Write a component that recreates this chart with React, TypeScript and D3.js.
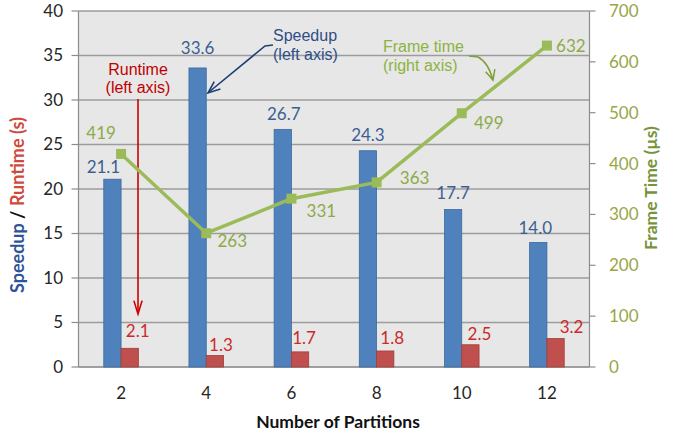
import React from "react";
import * as d3 from "d3";

// Partition counts along the x axis
const partitions: string[] = ["2", "4", "6", "8", "10", "12"];
// Speedup (left axis)
const speedup: number[] = [21.1, 33.6, 26.7, 24.3, 17.7, 14.0];
// Runtime in seconds (left axis)
const runtime: number[] = [2.1, 1.3, 1.7, 1.8, 2.5, 3.2];
// Frame time in microseconds (right axis)
const frameTime: number[] = [419, 263, 331, 363, 499, 632];

const leftTicks: number[] = [0, 5, 10, 15, 20, 25, 30, 35, 40];
const rightTicks: number[] = [0, 100, 200, 300, 400, 500, 600, 700];

// Label placement nudges (dx, dy) relative to each mark
const speedupLabelNudge: [number, number][] = [[-9, -6], [0, -14], [1, -9], [0, -10], [0, -10], [-3, -8]];
const runtimeLabelNudge: [number, number][] = [[8, -17], [6, -10], [4, -13.5], [7, -12.5], [9, -11], [16, -11]];
const frameLabelNudge: [number, number][] = [[-20, -21], [26, 8], [30, 12], [38, -4], [27, 10], [24, 0]];

const W = 678;
const H = 437;
const plot = { left: 78.5, right: 589.5, top: 11, bottom: 367 };

const BLUE = "#4F81BD";
const RED = "#C0504D";
const GREEN = "#9BBB59";
const DIGITS = "Lato, 'Open Sans', sans-serif";
const ARIAL = "'Liberation Sans', Arial, sans-serif";

function arrowHead(tipX: number, tipY: number, fromX: number, fromY: number, len = 12, spread = 0.42) {
  const ang = Math.atan2(tipY - fromY, tipX - fromX);
  const a1 = ang + Math.PI - spread;
  const a2 = ang + Math.PI + spread;
  return `M${tipX + len * Math.cos(a1)},${tipY + len * Math.sin(a1)} L${tipX},${tipY} L${tipX + len * Math.cos(a2)},${tipY + len * Math.sin(a2)}`;
}

export default function App() {
  const x = d3.scaleBand<string>().domain(partitions).range([plot.left, plot.right]);
  const yL = d3.scaleLinear().domain([0, 40]).range([plot.bottom, plot.top]);
  const yR = d3.scaleLinear().domain([0, 700]).range([plot.bottom, plot.top]);
  const barW = 17.3;
  const cx = (p: string) => (x(p) as number) + x.bandwidth() / 2;

  const linePath = d3
    .line<number>()
    .x((_, i) => cx(partitions[i]))
    .y((d) => yR(d))(frameTime) as string;

  return (
    <svg width={W} height={H} style={{ position: "absolute", left: 0, top: 0, background: "#fff" }}>
      {/* plot background */}
      <rect x={plot.left} y={plot.top} width={plot.right - plot.left} height={plot.bottom - plot.top} fill="#E7E7E7" />

      {/* gridlines */}
      {leftTicks.map((t) => (
        <line key={"g" + t} x1={plot.left} x2={plot.right} y1={yL(t)} y2={yL(t)} stroke="#9C9C9C" strokeWidth={1.3} />
      ))}

      {/* axes lines */}
      <line x1={plot.left} x2={plot.left} y1={plot.top} y2={plot.bottom} stroke="#8C8C8C" strokeWidth={1.2} />
      <line x1={plot.right} x2={plot.right} y1={plot.top} y2={plot.bottom} stroke="#8C8C8C" strokeWidth={1.2} />
      <line x1={plot.left} x2={plot.right} y1={plot.bottom} y2={plot.bottom} stroke="#8C8C8C" strokeWidth={1.2} />

      {/* left ticks */}
      {leftTicks.map((t) => (
        <g key={"l" + t}>
          <line x1={plot.left - 7} x2={plot.left} y1={yL(t)} y2={yL(t)} stroke="#8C8C8C" strokeWidth={1.2} />
          <text x={63} y={yL(t)} dy="0.35em" textAnchor="end" fontFamily={DIGITS} fontSize={17} fill="#262626">
            {t}
          </text>
        </g>
      ))}

      {/* right ticks */}
      {rightTicks.map((t) => (
        <g key={"r" + t}>
          <line x1={plot.right} x2={plot.right + 6} y1={yR(t)} y2={yR(t)} stroke="#8C8C8C" strokeWidth={1.2} />
          <text x={609} y={yR(t)} dy="0.35em" textAnchor="start" fontFamily={DIGITS} fontSize={17} fill="#9AA548">
            {t}
          </text>
        </g>
      ))}

      {/* x ticks */}
      {partitions.map((p) => (
        <text key={"x" + p} x={cx(p)} y={393} dy="0.35em" textAnchor="middle" fontFamily={DIGITS} fontSize={17} fill="#262626">
          {p}
        </text>
      ))}

      {/* speedup bars */}
      {partitions.map((p, i) => (
        <rect
          key={"s" + p}
          x={cx(p) - barW}
          y={yL(speedup[i])}
          width={barW}
          height={yL(0) - yL(speedup[i])}
          fill={BLUE}
          stroke="#3D6A9E"
          strokeWidth={0.8}
        />
      ))}

      {/* runtime bars */}
      {partitions.map((p, i) => (
        <rect
          key={"rt" + p}
          x={cx(p)}
          y={yL(runtime[i])}
          width={barW}
          height={yL(0) - yL(runtime[i])}
          fill={RED}
          stroke="#A23D3A"
          strokeWidth={0.8}
        />
      ))}

      {/* annotation: runtime arrow */}
      <line x1={138} x2={138} y1={99} y2={313} stroke="#D00000" strokeWidth={1.6} />
      <path d={arrowHead(138, 314, 138, 290, 14, 0.3)} fill="none" stroke="#D00000" strokeWidth={1.6} />

      {/* frame time line */}
      <path d={linePath} fill="none" stroke={GREEN} strokeWidth={3.5} strokeLinejoin="round" />
      {frameTime.map((v, i) => (
        <rect key={"m" + i} x={cx(partitions[i]) - 5} y={yR(v) - 5} width={10} height={10} fill={GREEN} />
      ))}

      {/* data labels */}
      {speedup.map((v, i) => (
        <text
          key={"sl" + i}
          x={cx(partitions[i]) - barW / 2 + speedupLabelNudge[i][0]}
          y={yL(v) + speedupLabelNudge[i][1]}
          textAnchor="middle"
          fontFamily={DIGITS}
          fontSize={17}
          fill="#3C5F93"
        >
          {v.toFixed(1)}
        </text>
      ))}
      {runtime.map((v, i) => (
        <text
          key={"rl" + i}
          x={cx(partitions[i]) + barW / 2 + runtimeLabelNudge[i][0]}
          y={yL(v) + runtimeLabelNudge[i][1]}
          dy="0.35em"
          textAnchor="middle"
          fontFamily={DIGITS}
          fontSize={17}
          fill="#CC2A2A"
        >
          {v.toFixed(1)}
        </text>
      ))}
      {frameTime.map((v, i) => (
        <text
          key={"fl" + i}
          x={cx(partitions[i]) + frameLabelNudge[i][0]}
          y={yR(v) + frameLabelNudge[i][1]}
          dy="0.35em"
          textAnchor="middle"
          fontFamily={DIGITS}
          fontSize={17}
          fill="#8DAA48"
        >
          {v}
        </text>
      ))}

      {/* annotation: speedup */}
      <text x={273} y={41} fontFamily={ARIAL} fontSize={16} fill="#2D4E86">Speedup</text>
      <text x={273} y={60} fontFamily={ARIAL} fontSize={16} fill="#2D4E86">(left axis)</text>
      <path d="M273,45 L265,46 L209,92" fill="none" stroke="#1F3F75" strokeWidth={1.6} />
      <path d={arrowHead(208, 93, 265, 46, 13, 0.38)} fill="none" stroke="#1F3F75" strokeWidth={1.6} />

      {/* annotation: runtime */}
      <text x={138} y={75} textAnchor="middle" fontFamily={ARIAL} fontSize={16} fill="#C00000">Runtime</text>
      <text x={138} y={93} textAnchor="middle" fontFamily={ARIAL} fontSize={16} fill="#C00000">(left axis)</text>

      {/* annotation: frame time */}
      <text x={383} y={52} fontFamily={ARIAL} fontSize={16} fill="#8DB33F">Frame time</text>
      <text x={383} y={71} fontFamily={ARIAL} fontSize={16} fill="#8DB33F">(right axis)</text>
      <path d="M469,56 L478,57 Q488,62 493,80" fill="none" stroke="#7E9F3A" strokeWidth={1.5} />
      <path d={arrowHead(493, 80, 489, 66, 11, 0.45)} fill="none" stroke="#7E9F3A" strokeWidth={1.5} />

      {/* axis titles */}
      <text
        transform={`translate(24,205) rotate(-90)`}
        textAnchor="middle"
        fontFamily={DIGITS}
        fontWeight="bold"
        fontSize={18}
      >
        <tspan fill="#2F5496">Speedup</tspan>
        <tspan fill="#111"> / </tspan>
        <tspan fill="#D04A3C">Runtime (s)</tspan>
      </text>
      <text
        transform={`translate(657,188) rotate(-90)`}
        textAnchor="middle"
        fontFamily={DIGITS}
        fontWeight="bold"
        fontSize={17.5}
        fill="#77933C"
      >
        Frame Time (µs)
      </text>
      <text x={338} y={422} dy="0.35em" textAnchor="middle" fontFamily={DIGITS} fontWeight="bold" fontSize={17.5} fill="#111">
        Number of Partitions
      </text>
    </svg>
  );
}
